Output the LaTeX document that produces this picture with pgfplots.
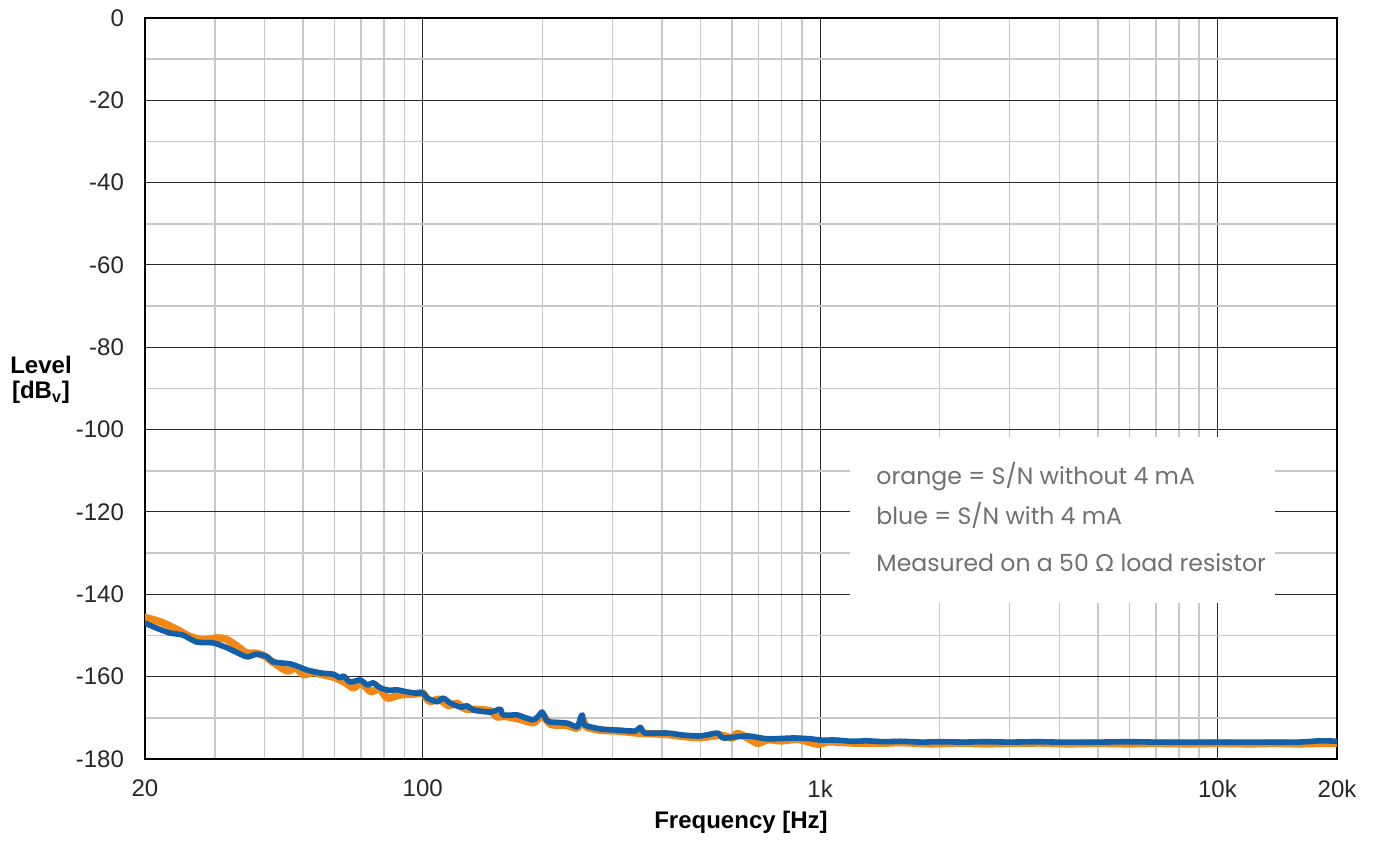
\documentclass[border=0pt]{standalone}
\usepackage{pgfplots}
\pgfplotsset{compat=1.18}
\usepackage{fontspec}
\setmainfont{Liberation Sans}
\newfontfamily\legendfont{Poppins}
\newfontfamily\omegafont{Lato}

\definecolor{curveorange}{RGB}{242,135,20}
\definecolor{curveblue}{RGB}{18,96,168}
\definecolor{legendgray}{RGB}{112,112,112}
\definecolor{minorgrid}{RGB}{200,200,200}
\definecolor{majorgrid}{RGB}{40,40,40}

\pgfplotstableread{
f dB
20 -145.6
22 -146.8
24 -148.5
26 -150.3
28 -151.0
30.5 -150.6
32 -150.9
34 -152.5
36 -154.2
38 -154.3
40 -155.0
42 -156.5
45.6 -158.6
48 -157.8
50 -159.5
53 -159.0
56 -159.5
60 -160.2
64 -161.5
66.8 -162.7
70 -161.6
74 -163.6
78 -163.0
81.5 -165.2
88 -164.4
95 -164.2
100 -164.0
104 -166.0
110 -165.5
116 -167.0
122 -166.5
128 -167.8
138 -168.0
148 -168.3
154 -169.8
160 -169.6
175 -170.3
190 -171.2
200 -169.4
210 -171.6
230 -171.8
245 -172.5
252 -170.2
258 -172.2
280 -173.0
310 -173.2
340 -173.6
360 -173.8
410 -174.0
450 -174.5
500 -174.8
560 -174.2
600 -174.9
620 -173.8
660 -175.0
697 -176.2
740 -175.3
800 -175.6
880 -175.2
987 -176.4
1050 -175.8
1200 -176.1
1400 -176.2
1600 -176.0
1900 -176.3
2200 -176.1
2600 -176.3
3000 -176.2
3600 -176.1
4200 -176.3
5000 -176.2
6000 -176.3
7000 -176.2
8500 -176.3
10000 -176.2
12000 -176.3
14000 -176.2
16000 -176.3
18000 -176.2
20000 -176.1
}\orangedata

\pgfplotstableread{
f dB
20 -147.0
21.5 -148.3
23.1 -149.4
24.9 -149.9
27 -151.6
29.7 -151.8
32.2 -153.0
34 -154.1
36.2 -155.2
38.3 -154.5
40.6 -155.2
42 -156.4
46.4 -156.9
49.1 -157.7
51.2 -158.4
55.2 -159.1
59.5 -159.4
62 -160.3
63.1 -159.8
65.7 -161.3
69.6 -160.8
72.5 -162.0
75.1 -161.5
78.2 -162.7
82 -163.3
86.2 -163.2
91.4 -163.7
96 -164.0
100.2 -164.0
102.6 -165.2
108.8 -166.1
112.6 -165.2
117.3 -166.4
124.3 -167.4
129.5 -167.1
134.1 -168.1
147.9 -168.6
156.7 -167.9
159.5 -169.3
173 -169.3
179.1 -169.8
189.8 -170.5
195.4 -169.6
199.9 -168.6
204.6 -170.5
209.4 -171.0
231.1 -171.3
244.9 -172.2
249.4 -170.0
252.3 -169.3
255.2 -171.7
280 -172.7
309 -173.0
343 -173.2
353 -172.3
363 -173.7
413 -173.7
453 -174.2
500 -174.4
552 -173.7
571 -174.9
656 -174.4
738 -175.1
857 -174.9
946 -175.1
1003 -175.4
1100 -175.4
1200 -175.7
1317 -175.6
1450 -175.8
1596 -175.7
1800 -175.9
2000 -175.8
2300 -175.9
2600 -175.8
3000 -175.9
3500 -175.8
4000 -175.9
5000 -175.9
6000 -175.8
7000 -175.9
8000 -175.9
10000 -175.9
12000 -175.9
14000 -175.9
16000 -175.9
18000 -175.6
19000 -175.6
20000 -175.7
}\bluedata

\begin{document}
\begin{tikzpicture}
\begin{axis}[
    scale only axis,
    width=596pt, height=370.5pt,
    xmode=log,
    xmin=20, xmax=20000,
    ymin=-180, ymax=0,
    xtick={20,100,1000,10000,20000},
    xticklabels={20,100,1k,10k,20k},
    minor xtick={30,40,50,60,70,80,90,200,300,400,500,600,700,800,900,2000,3000,4000,5000,6000,7000,8000,9000},
    ytick={-180,-160,...,0},
    yticklabels={-180,-160,-140,-120,-100,-80,-60,-40,-20,0},
    minor ytick={-170,-150,...,-10},
    major tick length=0pt, minor tick length=0pt,
    grid=both,
    major grid style={majorgrid, line width=0.5pt},
    minor grid style={minorgrid, line width=0.75pt},
    axis line style={black, line width=0.6pt},
    tick label style={font=\fontsize{12}{14}\selectfont, text=black!85},
    yticklabel style={xshift=-7pt},
    xticklabel style={yshift=-7pt},
    clip mode=individual,
]
\addplot[curveorange, line width=3.8pt, smooth, tension=0.4, line join=round, line cap=round] table[x=f, y=dB] {\orangedata};
\addplot[curveblue, line width=2.8pt, smooth, tension=0.4, line join=round, line cap=round] table[x=f, y=dB] {\bluedata};

% legend box
\fill[white] (rel axis cs:0.5914,0.2105) rectangle (rel axis cs:0.948,0.4345);
\tikzset{legtext/.style={anchor=west, inner sep=0pt, legendgray, font=\legendfont\fontsize{11.8}{13}\selectfont}}
\node[legtext] at (rel axis cs:0.6133,0.3806) {orange = S/N without 4 mA};
\node[legtext] at (rel axis cs:0.6133,0.3293) {blue = S/N with 4 mA};
\node[legtext] at (rel axis cs:0.6133,0.2645) {Measured on a 50 {\omegafont Ω} load resistor};

% axis labels
\node[font=\bfseries\fontsize{12}{14}\selectfont] at (rel axis cs:0.5,0) [yshift=-31.5pt] {Frequency [Hz]};
\node[font=\bfseries\fontsize{12}{12.5}\selectfont, align=center] at (rel axis cs:0,0.5115) [xshift=-52pt] {Level\\{}[dB\textsubscript{v}]};
\end{axis}
\path (current axis.south west) ++(-72.5pt,-41pt) coordinate (bbA);
\path (current axis.north east) ++(18pt,9pt) coordinate (bbB);
\useasboundingbox (bbA) rectangle (bbB);
\end{tikzpicture}
\end{document}
